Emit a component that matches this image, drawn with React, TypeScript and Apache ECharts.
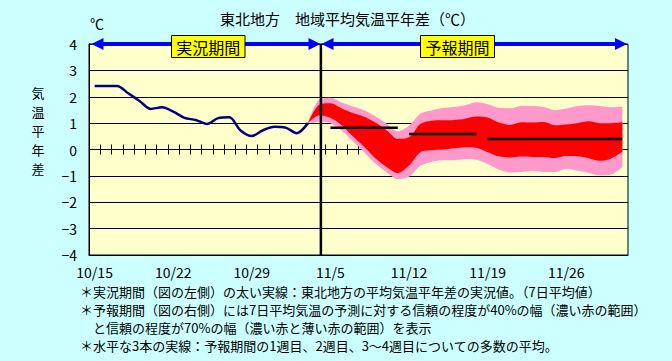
import React, { useEffect, useRef } from 'react';
import * as echarts from 'echarts';

// ---- data ----
const categories = [
  '10/15', '10/16', '10/17', '10/18', '10/19', '10/20', '10/21', '10/22', '10/23', '10/24',
  '10/25', '10/26', '10/27', '10/28', '10/29', '10/30', '10/31', '11/1', '11/2', '11/3',
  '11/4', '11/5', '11/6', '11/7', '11/8', '11/9', '11/10', '11/11', '11/12', '11/13',
  '11/14', '11/15', '11/16', '11/17', '11/18', '11/19', '11/20', '11/21', '11/22', '11/23',
  '11/24', '11/25', '11/26', '11/27', '11/28', '11/29', '11/30', '12/1',
];
// observed 7-day mean anomaly (10/15 .. 11/3)
const observed = [2.41, 2.41, 2.41, 2.13, 1.84, 1.54, 1.6, 1.44, 1.2, 1.12, 0.97, 1.19, 1.22, 0.72, 0.51, 0.73, 0.86, 0.83, 0.62, 1.0];
// forecast ranges, starting at index 19 (11/3)
const forecastStart = 19;
const pinkHigh = [1.0, 1.9, 1.96, 1.78, 1.63, 1.49, 1.26, 0.98, 0.69, 0.9, 1.36, 1.48, 1.57, 1.61, 1.68, 1.79, 1.72, 1.58, 1.56, 1.65, 1.65, 1.61, 1.49, 1.55, 1.65, 1.68, 1.65, 1.6, 1.62];
const redHigh = [1.0, 1.7, 1.75, 1.55, 1.38, 1.24, 1.02, 0.73, 0.4, 0.46, 0.97, 1.09, 1.11, 1.12, 1.17, 1.25, 1.21, 1.02, 0.93, 1.03, 1.02, 1.04, 0.92, 0.95, 1.0, 1.07, 1.0, 1.0, 1.03];
const redLow = [1.0, 1.3, 1.2, 0.92, 0.5, 0.1, -0.33, -0.66, -0.89, -0.61, -0.1, -0.03, 0.0, 0.05, 0.09, 0.07, -0.1, -0.26, -0.3, -0.27, -0.28, -0.28, -0.32, -0.25, -0.26, -0.33, -0.43, -0.34, -0.09];
const pinkLow = [1.0, 1.05, 1.0, 0.72, 0.31, -0.1, -0.53, -0.86, -1.12, -1.03, -0.62, -0.47, -0.41, -0.41, -0.36, -0.39, -0.55, -0.76, -0.87, -0.85, -0.81, -0.85, -0.85, -0.73, -0.81, -0.89, -0.98, -0.95, -0.66];
// weekly means (week 1, week 2, weeks 3-4)
const weekMeans = [0.82, 0.59, 0.4];
const weekStartIdx = [21, 28, 35];
const weekEndIdx = [27, 34, 47];
// boundary between observed and forecast periods (in category units)
const nowPos = 20.65;
const yTicks = [-4, -3, -2, -1, 0, 1, 2, 3, 4];

const title = '東北地方　地域平均気温平年差（℃）';
const yName = ['気', '温', '平', '年', '差'];
const notes = [
  '＊実況期間（図の左側）の太い実線：東北地方の平均気温平年差の実況値。（7日平均値）',
  '＊予報期間（図の右側）には7日平均気温の予測に対する信頼の程度が40%の幅（濃い赤の範囲）',
  '　と信頼の程度が70%の幅（濃い赤と薄い赤の範囲）を表示',
  '＊水平な3本の実線：予報期間の1週目、2週目、3～4週目についての多数の平均。',
];

const FONT = '"Noto Sans CJK JP", "Noto Sans", sans-serif';

function placeAt(arr: number[], start: number) {
  return categories.map((_, i) => (i >= start && i - start < arr.length ? arr[i - start] : null));
}

export default function App() {
  const ref = useRef<HTMLDivElement>(null);
  useEffect(() => {
    if (!ref.current) return;
    const chart = echarts.init(ref.current, null, { renderer: 'svg' });

    const pLow = placeAt(pinkLow, forecastStart);
    const pDiff = placeAt(pinkHigh.map((v, i) => v - pinkLow[i]), forecastStart);
    const rLow = placeAt(redLow, forecastStart);
    const rDiff = placeAt(redHigh.map((v, i) => v - redLow[i]), forecastStart);

    const weekSeries = weekMeans.map((m, w) => ({
      type: 'line',
      data: categories.map((_, i) => (i >= weekStartIdx[w] && i <= weekEndIdx[w] ? m : null)),
      symbol: 'none',
      lineStyle: { color: '#000', width: 2.5 },
      z: 5,
      silent: true,
    }));

    const yMin = yTicks[0];
    const yMax = yTicks[yTicks.length - 1];

    const arrowY = 44;
    const head = (tipX: number, dir: number) => ({
      type: 'polygon',
      shape: { points: [[tipX, arrowY], [tipX + dir * 12, arrowY - 6], [tipX + dir * 12, arrowY + 6]] },
      style: { fill: '#0000FF' },
      z: 100,
    });
    const txt = (text: string, x: number, y: number, size: number, align = 'left', extra: any = {}) => ({
      type: 'text',
      x, y,
      style: { text, fontSize: size, fontFamily: FONT, fill: '#000', align, verticalAlign: 'middle', ...extra },
      z: 101,
    });

    chart.setOption({
      animation: false,
      backgroundColor: '#CCFFFF',
      grid: {
        left: 89, right: 44, top: 44, bottom: 106,
        show: true, backgroundColor: '#FFFFCC', borderColor: '#000', borderWidth: 1,
      },
      xAxis: [
        {
          type: 'category',
          data: categories,
          boundaryGap: true,
          axisLine: { onZero: false, lineStyle: { color: '#000', width: 1 } },
          axisTick: { interval: 6, inside: true, length: 5, lineStyle: { color: '#000' } },
          axisLabel: { interval: 6, color: '#000', fontSize: 14, fontFamily: FONT, margin: 10 },
          splitLine: { show: false },
        },
        { type: 'value', min: 0, max: categories.length, show: false },
      ],
      yAxis: {
        type: 'value',
        min: yMin, max: yMax, interval: 1,
        axisLine: { show: true, lineStyle: { color: '#000', width: 1 } },
        axisTick: { show: false },
        axisLabel: {
          color: '#000', fontSize: 14, fontFamily: FONT, margin: 12,
          formatter: (v: number) => String(v).replace('-', '−'),
        },
        splitLine: { show: true, lineStyle: { color: '#000', width: 1 } },
      },
      series: [
        {
          type: 'custom',
          xAxisIndex: 0, yAxisIndex: 0,
          data: categories.map((_, i) => [i, 0]),
          renderItem: (params: any, api: any) => {
            const p = api.coord([api.value(0), 0]);
            const bw = api.size([1, 0])[0];
            const x = Math.round(p[0] - bw / 2) + 0.5;
            return {
              type: 'line',
              shape: { x1: x, y1: p[1] - 5, x2: x, y2: p[1] + 5 },
              style: { stroke: '#000', lineWidth: 1 },
            };
          },
          silent: true,
          z: 1,
        },
        {
          type: 'line', stack: 'pink', stackStrategy: 'all', data: pLow, symbol: 'none', smooth: 0.3,
          lineStyle: { width: 0, opacity: 0 }, z: 2, silent: true,
        },
        {
          type: 'line', stack: 'pink', stackStrategy: 'all', data: pDiff, symbol: 'none', smooth: 0.3,
          lineStyle: { width: 0, opacity: 0 }, areaStyle: { color: '#FF99CC', opacity: 1 }, z: 2, silent: true,
        },
        {
          type: 'line', stack: 'red', stackStrategy: 'all', data: rLow, symbol: 'none', smooth: 0.3,
          lineStyle: { width: 0, opacity: 0 }, z: 3, silent: true,
        },
        {
          type: 'line', stack: 'red', stackStrategy: 'all', data: rDiff, symbol: 'none', smooth: 0.3,
          lineStyle: { width: 0, opacity: 0 }, areaStyle: { color: '#FF0000', opacity: 1 }, z: 3, silent: true,
        },
        {
          type: 'line',
          data: placeAt(observed, 0),
          symbol: 'none',
          smooth: 0.3,
          lineStyle: { color: '#000080', width: 2.5 },
          z: 4,
          silent: true,
        },
        ...weekSeries,
        {
          type: 'line',
          xAxisIndex: 1,
          data: [[nowPos, yMin], [nowPos, yMax]],
          symbol: 'none',
          lineStyle: { color: '#000', width: 2.5 },
          z: 6,
          silent: true,
        },
      ],
      graphic: [
        txt(title, 220, 18, 15),
        txt('℃', 90, 23, 14),
        ...yName.map((ch, k) => txt(ch, 38, 92 + k * 19, 13, 'center')),
        // arrows
        { type: 'line', shape: { x1: 100, y1: arrowY, x2: 312, y2: arrowY }, style: { stroke: '#0000FF', lineWidth: 4 }, z: 100 },
        head(91.5, 1),
        head(320.5, -1),
        { type: 'line', shape: { x1: 330, y1: arrowY, x2: 618, y2: arrowY }, style: { stroke: '#0000FF', lineWidth: 4 }, z: 100 },
        head(321.5, 1),
        head(627, -1),
        // period boxes
        { type: 'rect', shape: { x: 171.5, y: 35.5, width: 73.5, height: 22 }, style: { fill: '#FFFF00', stroke: '#000', lineWidth: 1 }, z: 101 },
        txt('実況期間', 208.3, 46.8, 16, 'center', { z: 102 }),
        { type: 'rect', shape: { x: 420.5, y: 35.5, width: 74, height: 22 }, style: { fill: '#FFFF00', stroke: '#000', lineWidth: 1 }, z: 101 },
        txt('予報期間', 457.5, 46.8, 16, 'center'),
        // footnotes
        txt(notes[0], 80, 291, 13),
        txt(notes[1], 80, 309, 13),
        txt(notes[2], 80, 327, 13),
        txt(notes[3], 80, 345, 13),
      ],
    });
    return () => chart.dispose();
  }, []);
  return (
    <div
      ref={ref}
      style={{ position: 'fixed', left: 0, top: 0, width: 672, height: 361, background: '#CCFFFF' }}
    />
  );
}
